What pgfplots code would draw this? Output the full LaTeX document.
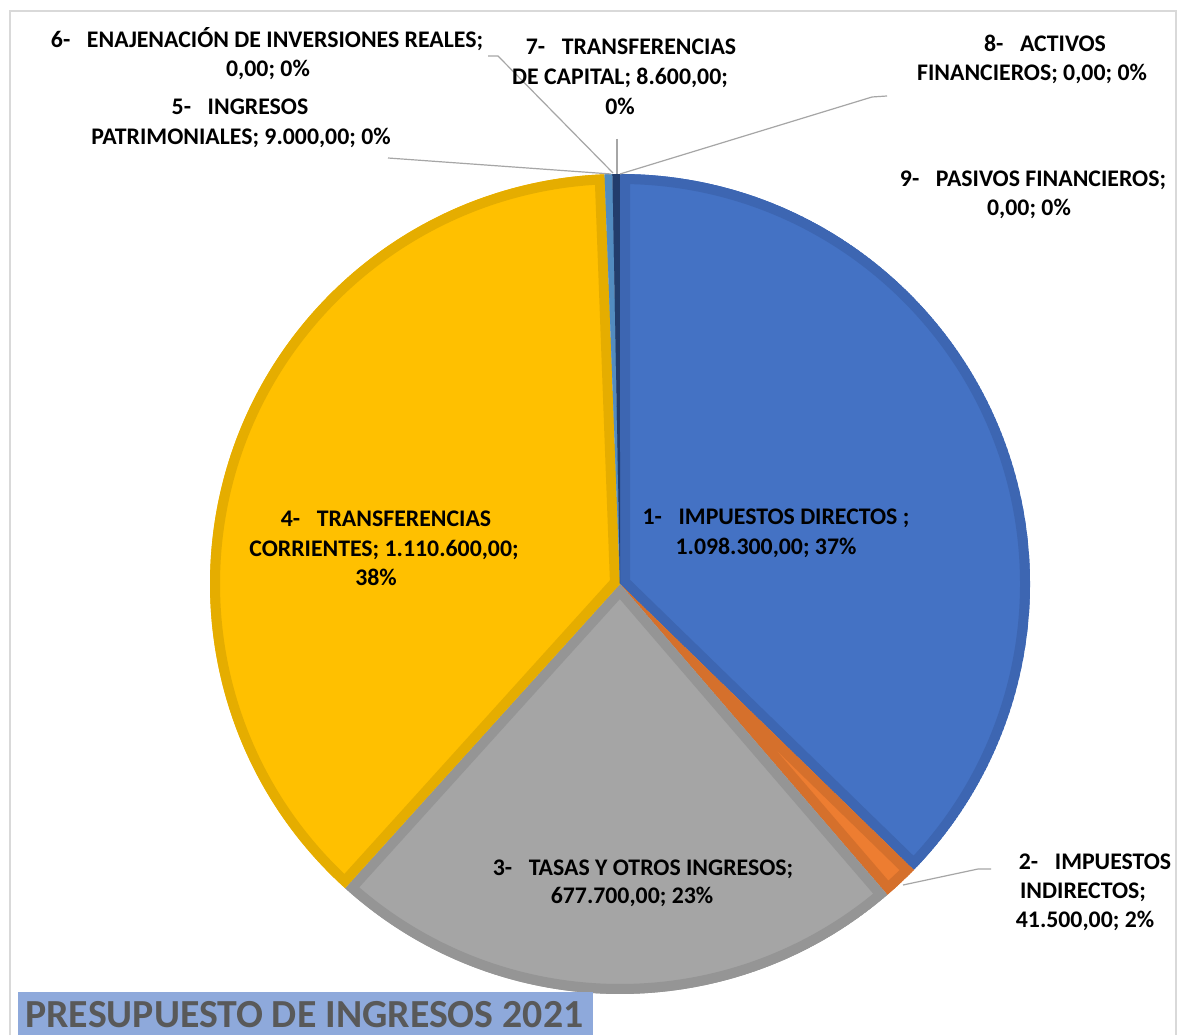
\documentclass[border=0pt]{standalone}
\usepackage{pgfplots}
\usepackage{pgfplotstable}
\pgfplotsset{compat=1.18}
\usepackage{fontspec}
\setmainfont{Carlito}
\definecolor{cBlue}{HTML}{4472C4}\definecolor{bBlue}{HTML}{3D66B2}
\definecolor{cOrange}{HTML}{ED7D31}\definecolor{bOrange}{HTML}{D5702C}
\definecolor{cGray}{HTML}{A5A5A5}\definecolor{bGray}{HTML}{959595}
\definecolor{cYellow}{HTML}{FFC000}\definecolor{bYellow}{HTML}{E5AD00}
\definecolor{cLBlue}{HTML}{5B9BD5}\definecolor{bLBlue}{HTML}{528CC0}
\definecolor{cNavy}{HTML}{264478}\definecolor{bNavy}{HTML}{223D6C}
\definecolor{leader}{HTML}{A6A6A6}
\definecolor{frame}{HTML}{D9D9D9}
\definecolor{titlebg}{HTML}{8EA9DB}
\definecolor{titlefg}{HTML}{595959}
% values in thousands of euros
\pgfplotstableread{
id val
1 1098.3
2 41.5
3 677.7
4 1110.6
5 9.0
6 0
7 8.6
8 0
9 0
}\ingresos
\newcommand\slicepath[1]{(axis cs:620,584) -- ++(\csname sa#1\endcsname:205pt) arc[start angle=\csname sa#1\endcsname, end angle=\csname ea#1\endcsname, radius=205pt] -- cycle}
\newcommand\slice[3]{\pgfplotsextra{\begin{scope}
 \clip \slicepath{#1};
 \filldraw[fill=#2, draw=#3, line width=10pt] \slicepath{#1};
 \end{scope}}}
\tikzset{lab/.style={anchor=base, font=\bfseries\fontsize{11.9}{13}\selectfont, inner sep=0pt}}
\newcommand\gap{\hspace{0.7em}}
\begin{document}
\begin{tikzpicture}
\def\tot{0}
\pgfplotsforeachungrouped \i in {0,...,8}{%
 \pgfplotstablegetelem{\i}{val}\of\ingresos
 \pgfmathsetmacro\tot{\tot+\pgfplotsretval}}
\def\cur{90}
\pgfplotsforeachungrouped \i in {0,...,8}{%
 \pgfplotstablegetelem{\i}{val}\of\ingresos
 \pgfmathsetmacro\nxt{\cur-\pgfplotsretval/\tot*360}%
 \expandafter\xdef\csname sa\i\endcsname{\cur}%
 \expandafter\xdef\csname ea\i\endcsname{\nxt}%
 \xdef\cur{\nxt}}
\begin{axis}[hide axis, scale only axis, width=590.5pt, height=517.5pt,
 xmin=0, xmax=1181, ymin=0, ymax=1035, y dir=reverse, clip=false]
\fill[white] (axis cs:0,0) rectangle (axis cs:1181,1035);
\draw[frame, line width=0.6pt] (axis cs:10,1035) -- (axis cs:10,11) -- (axis cs:1176,11) -- (axis cs:1176,1035);
\slice{0}{cBlue}{bBlue}
\slice{1}{cOrange}{bOrange}
\slice{2}{cGray}{bGray}
\slice{3}{cYellow}{bYellow}
\slice{4}{cLBlue}{bLBlue}
\slice{6}{cNavy}{bNavy}
% leader lines
\draw[leader, line width=0.6pt] (axis cs:388,158) -- (axis cs:611,174);
\draw[leader, line width=0.6pt] (axis cs:488,56) -- (axis cs:498,56) -- (axis cs:613,173);
\draw[leader, line width=0.6pt] (axis cs:617,139) -- (axis cs:617,174);
\draw[leader, line width=0.6pt] (axis cs:887,96) -- (axis cs:872,97) -- (axis cs:620,174);
\draw[leader, line width=0.6pt] (axis cs:991,869) -- (axis cs:978,869) -- (axis cs:903,885);
% labels
\node[lab] at (axis cs:267,48) {6-\gap ENAJENACIÓN DE INVERSIONES REALES;};
\node[lab] at (axis cs:268,77) {0,00; 0\%};
\node[lab] at (axis cs:240,115) {5-\gap INGRESOS};
\node[lab] at (axis cs:241,145) {PATRIMONIALES; 9.000,00; 0\%};
\node[lab] at (axis cs:631,55) {7-\gap TRANSFERENCIAS};
\node[lab] at (axis cs:620,85) {DE CAPITAL; 8.600,00;};
\node[lab] at (axis cs:620,115) {0\%};
\node[lab] at (axis cs:1045,52) {8-\gap ACTIVOS};
\node[lab] at (axis cs:1032,81) {FINANCIEROS; 0,00; 0\%};
\node[lab] at (axis cs:1033,187) {9-\gap PASIVOS FINANCIEROS;};
\node[lab] at (axis cs:1029,216) {0,00; 0\%};
\node[lab] at (axis cs:776,524) {1-\gap IMPUESTOS DIRECTOS ;};
\node[lab] at (axis cs:766,554) {1.098.300,00; 37\%};
\node[lab] at (axis cs:386,526) {4-\gap TRANSFERENCIAS};
\node[lab] at (axis cs:384,556) {CORRIENTES; 1.110.600,00;};
\node[lab] at (axis cs:376,585) {38\%};
\node[lab] at (axis cs:643,875) {3-\gap TASAS Y OTROS INGRESOS;};
\node[lab] at (axis cs:632,903) {677.700,00; 23\%};
\node[lab] at (axis cs:1095,869) {2-\gap IMPUESTOS};
\node[lab] at (axis cs:1083,898) {INDIRECTOS;};
\node[lab] at (axis cs:1085,927) {41.500,00; 2\%};
% title box
\fill[titlebg] (axis cs:18,992) rectangle (axis cs:593,1035);
\node[anchor=base west, inner sep=0pt, text=titlefg, font=\bfseries\fontsize{19.9}{23}\selectfont] at (axis cs:25,1027) {PRESUPUESTO DE INGRESOS 2021};
\end{axis}
\end{tikzpicture}
\end{document}
